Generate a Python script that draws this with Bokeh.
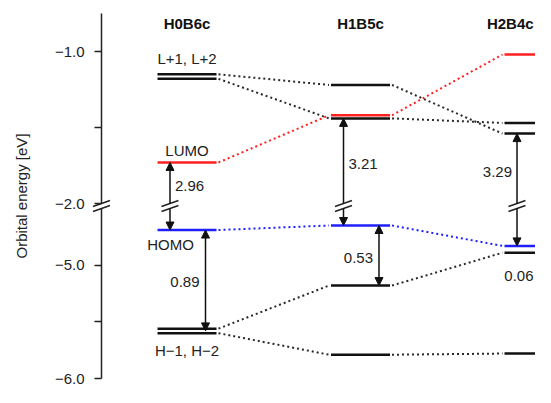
from bokeh.plotting import figure
from bokeh.models import ColumnDataSource, LinearAxis, FixedTicker, Range1d, Arrow, NormalHead
from bokeh.core.properties import value
from bokeh.embed import file_html
from bokeh.resources import INLINE

# ---------------- data ----------------
systems = ["H0B6c", "H1B5c", "H2B4c"]

# orbital energies (eV) of each system, top to bottom, and their role
h0b6c_energy = [-1.15, -1.18, -1.73, -4.69, -5.56, -5.60]
h0b6c_role = ["other", "other", "lumo", "homo", "other", "other"]
h1b5c_energy = [-1.22, -1.42, -1.44, -4.65, -5.18, -5.79]
h1b5c_role = ["other", "lumo", "other", "homo", "other", "other"]
h2b4c_energy = [-1.02, -1.47, -1.54, -4.83, -4.89, -5.78]
h2b4c_role = ["lumo", "other", "other", "homo", "other", "other"]

# correlation lines: level index in system k -> level index in system k+1
link_left = [0, 0, 0, 0, 0, 0, 1, 1, 1, 1, 1, 1]
link_from = [0, 1, 2, 3, 4, 5, 0, 1, 2, 3, 4, 5]
link_to = [0, 2, 1, 3, 4, 5, 2, 0, 1, 3, 4, 5]

# energy gaps marked with arrows
gap_system = [0, 0, 1, 1, 2, 2]
gap_upper = [-1.73, -4.69, -1.44, -4.65, -1.54, -4.83]
gap_lower = [-4.69, -5.58, -4.65, -5.18, -4.83, -4.89]
gap_text = ["2.96", "0.89", "3.21", "0.53", "3.29", "0.06"]

# level names
name_system = [0, 0, 0, 0]
name_text = ["L+1, L+2", "LUMO", "HOMO", "H\u22121, H\u22122"]
name_energy = [-1.15, -1.73, -4.69, -5.60]

# broken energy axis
axis_upper_segment = [-0.75, -2.0]
axis_lower_segment = [-4.5, -6.0]
tick_upper = [-1.0, -1.5, -2.0]
tick_upper_labels = ["\u22121.0", "", "\u22122.0"]
tick_lower = [-5.0, -5.5, -6.0]
tick_lower_labels = ["\u22125.0", "", "\u22126.0"]
y_label = "Orbital energy [eV]"

# ---------------- layout / style ----------------
W, H = 535, 387
COL0_PX = 186.5          # centre of first system, px from left
COL_STEP_PX = 173.5
HALF_PX = 29.5
AXIS_PX = 101.0
PX_PER_EV_UP = 152.0
BREAK_PX = 5.0
LOW_TOP_PX = 208.0       # px from top where the lower axis segment starts
BOTTOM_PX = 378.0        # px from top of the lowest axis value
PX_PER_EV_LOW = (BOTTOM_PX - LOW_TOP_PX) / (axis_lower_segment[0] - axis_lower_segment[1])
FONT_NAME = "Liberation Sans"
FONT = value(FONT_NAME)
FS = 15
CHAR_W = 0.56 * FS       # rough width of a digit, to keep texts inside the figure
TXT = "#222222"
ROLE_COLOR = {"lumo": "#ff2020", "homo": "#2020ff", "other": "#111111"}
LINK_COLOR = {"lumo": "#ff2020", "homo": "#2020ff", "other": "#2a2a2a"}


def sx(px):
    return px / COL_STEP_PX


def sy(px):
    return px / PX_PER_EV_LOW


LOW_TOP = axis_lower_segment[0]
UP_BOT = axis_upper_segment[1]


def disp(e):
    if e <= LOW_TOP + 1e-9:
        return e
    return LOW_TOP + sy(BREAK_PX + (e - UP_BOT) * PX_PER_EV_UP)


x0r = -sx(COL0_PX)
x1r = x0r + sx(W)
y0r = axis_lower_segment[1] - sy(H - BOTTOM_PX)
y1r = axis_lower_segment[1] + sy(BOTTOM_PX)
AXIS_X = x0r + sx(AXIS_PX)
X_EDGE = x1r - sx(2)


def px_x(x):
    return (x - x0r) * COL_STEP_PX


p = figure(width=W, height=H, x_range=Range1d(x0r, x1r), y_range=Range1d(y0r, y1r),
           x_axis_type=None, y_axis_type=None, toolbar_location=None,
           output_backend="svg", min_border=0, outline_line_color=None)
p.background_fill_color = "white"
p.border_fill_color = "white"

energies = [h0b6c_energy, h1b5c_energy, h2b4c_energy]
roles = [h0b6c_role, h1b5c_role, h2b4c_role]

# correlation lines
lk = dict(x0=[], y0=[], x1=[], y1=[], color=[])
for l, a, b in zip(link_left, link_from, link_to):
    lk["x0"].append(l + sx(HALF_PX + 2))
    lk["x1"].append(l + 1 - sx(HALF_PX + 2))
    lk["y0"].append(disp(energies[l][a]))
    lk["y1"].append(disp(energies[l + 1][b]))
    lk["color"].append(LINK_COLOR[roles[l][a]])
p.segment("x0", "y0", "x1", "y1", source=ColumnDataSource(lk), line_color="color",
          line_width=2, line_dash="2 3")

# levels
lv = dict(x0=[], x1=[], y=[], color=[])
for k, (es, rs) in enumerate(zip(energies, roles)):
    for e, r in zip(es, rs):
        lv["x0"].append(k - sx(HALF_PX))
        lv["x1"].append(k + sx(HALF_PX))
        lv["y"].append(disp(e))
        lv["color"].append(ROLE_COLOR[r])
p.segment("x0", "y", "x1", "y", source=ColumnDataSource(lv), line_color="color", line_width=2.5)

# break marks helper
sl = dict(x0=[], y0=[], x1=[], y1=[])


def slash(xc, yc):
    sl["x0"].append(xc - sx(8.5))
    sl["x1"].append(xc + sx(8.5))
    sl["y0"].append(yc - sy(3))
    sl["y1"].append(yc + sy(3))


for yc in (disp(UP_BOT), disp(LOW_TOP)):
    slash(AXIS_X, yc)

# gap arrows
single = dict(xs=[], ys=[], xe=[], ye=[])
double = dict(xs=[], ys=[], xe=[], ye=[])
gl = dict(x=[], y=[], text=[], align=[])
for k, up, lo, t in zip(gap_system, gap_upper, gap_lower, gap_text):
    yu, yl = disp(up), disp(lo)
    tw = len(t) * CHAR_W
    if up >= UP_BOT and lo <= LOW_TOP:
        xa = k - sx(17)
        for a, b in ((disp(UP_BOT), yu), (disp(LOW_TOP), yl)):
            single["xs"].append(xa); single["xe"].append(xa)
            single["ys"].append(a); single["ye"].append(b)
        slash(xa, disp(UP_BOT))
        slash(xa, disp(LOW_TOP))
        gy = (yu + disp(UP_BOT)) / 2 - sy(3)
        if px_x(xa) + 5 + tw > W - 2:      # would run off the figure: put it left of the arrow
            gx, ga = xa - sx(5), "right"
        else:
            gx, ga = xa + sx(5), "left"
    elif up - lo < 0.2:
        xa = k + sx(18.5)
        for a, b in ((yu + sy(14), yu), (yl - sy(14), yl)):
            single["xs"].append(xa); single["xe"].append(xa)
            single["ys"].append(a); single["ye"].append(b)
        gx, ga = min(xa - sx(3), X_EDGE), "right"
        gy = yl - sy(23)
    else:
        xa = k + sx(18.5)
        double["xs"].append(xa); double["xe"].append(xa)
        double["ys"].append(yu); double["ye"].append(yl)
        gx, ga = xa - sx(6), "right"
        gy = (yu + yl) / 2 - sy(2)
    gl["x"].append(gx); gl["y"].append(gy); gl["align"].append(ga)
    gl["text"].append(t)


def head():
    return NormalHead(size=8, fill_color="#111111", line_color="#111111", line_width=1)


p.add_layout(Arrow(start=None, end=head(), x_start="xs", y_start="ys", x_end="xe", y_end="ye",
                   source=ColumnDataSource(single), line_width=1.5, line_color="#111111"))
p.add_layout(Arrow(start=head(), end=head(), x_start="xs", y_start="ys", x_end="xe", y_end="ye",
                   source=ColumnDataSource(double), line_width=1.5, line_color="#111111"))

p.segment("x0", "y0", "x1", "y1", source=ColumnDataSource(sl), line_color="#222222", line_width=1.5)

p.text("x", "y", "text", source=ColumnDataSource(gl), text_align="align", text_baseline="middle",
       text_font=FONT, text_font_size=f"{FS}px", text_color=TXT)

# level names
NAME_DY = [16, 12, -14, -17]
NAME_DX = [0, 0, -16.5, 0]
nm = dict(x=[], y=[], text=[])
for k, t, e, dy_, dx_ in zip(name_system, name_text, name_energy, NAME_DY, NAME_DX):
    nm["x"].append(k + sx(dx_))
    nm["y"].append(disp(e) + sy(dy_))
    nm["text"].append(t)
p.text("x", "y", "text", source=ColumnDataSource(nm), text_align="center", text_baseline="middle",
       text_font=FONT, text_font_size=f"{FS}px", text_color=TXT)

# system titles (kept inside the figure)
tt = dict(x=[], y=[], text=[])
for k, s in enumerate(systems):
    half = len(s) * 0.62 * FS / 2
    tt["x"].append(min(k, X_EDGE - sx(half)))
    tt["y"].append(y1r - sy(23.3))
    tt["text"].append(s)
p.text("x", "y", "text", source=ColumnDataSource(tt),
       text_align="center", text_baseline="middle", text_font=FONT, text_font_size=f"{FS}px",
       text_font_style="bold", text_color="#111111")

# broken y axis (two segments) + label axis
EPS = 1e-9


def seg_axis(seg, ticks, labels):
    tv = [disp(v) for v in ticks]
    lo, hi = sorted([disp(seg[0]), disp(seg[1])])
    ax = LinearAxis(fixed_location=AXIS_X, bounds=(lo - EPS, hi + EPS), ticker=FixedTicker(ticks=tv),
                    major_label_overrides={v: lab for v, lab in zip(tv, labels)})
    ax.axis_line_color = "#222222"
    ax.axis_line_width = 1.5
    ax.major_tick_line_color = "#222222"
    ax.major_tick_line_width = 1.5
    ax.major_tick_out = 7
    ax.major_tick_in = 0
    ax.minor_tick_line_color = None
    ax.major_label_standoff = 10
    ax.major_label_text_font = FONT_NAME
    ax.major_label_text_font_size = f"{FS}px"
    ax.major_label_text_color = TXT
    return ax


p.add_layout(seg_axis(axis_upper_segment, tick_upper, tick_upper_labels), "left")
p.add_layout(seg_axis(axis_lower_segment, tick_lower, tick_lower_labels), "left")

lab_ax = LinearAxis(fixed_location=AXIS_X, bounds=(axis_lower_segment[1], disp(axis_upper_segment[0])),
                    ticker=FixedTicker(ticks=[]), axis_label=y_label)
lab_ax.axis_line_color = None
lab_ax.major_tick_out = 0
lab_ax.major_tick_in = 0
lab_ax.minor_tick_line_color = None
lab_ax.major_tick_line_color = None
lab_ax.axis_label_standoff = 72
lab_ax.axis_label_text_font = FONT_NAME
lab_ax.axis_label_text_font_size = f"{FS}px"
lab_ax.axis_label_text_font_style = "normal"
lab_ax.axis_label_text_color = TXT
p.add_layout(lab_ax, "left")

open("out.html", "w").write(file_html(p, INLINE))
